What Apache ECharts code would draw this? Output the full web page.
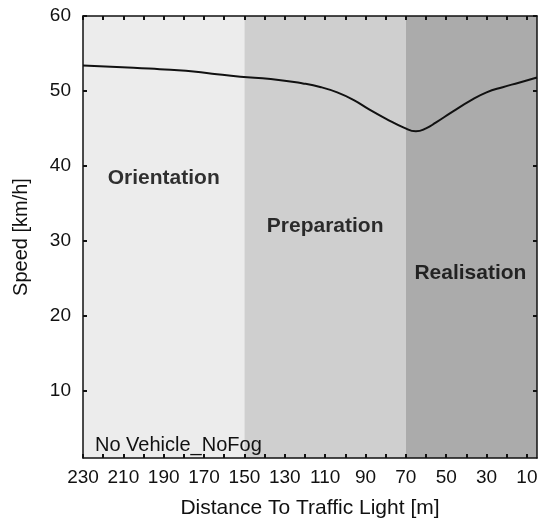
<!DOCTYPE html>
<html>
<head>
<meta charset="utf-8">
<script src="https://cdn.jsdelivr.net/npm/echarts@6/dist/echarts.min.js"></script>
<style>
html,body{margin:0;padding:0;background:#fff;}
#chart{width:541px;height:524px;}
</style>
</head>
<body>
<div id="chart"></div>
<script>
// Data
var distance = [230, 205, 192, 179, 166, 152, 137, 121, 112, 104, 96, 88, 80, 71, 65, 60, 55, 47, 38, 30, 22, 14, 5];
var speed    = [53.4, 53.1, 52.9, 52.7, 52.3, 51.9, 51.6, 51.0, 50.5, 49.8, 48.8, 47.5, 46.3, 45.1, 44.6, 45.0, 45.8, 47.2, 48.7, 49.8, 50.5, 51.1, 51.8];

var phaseNames  = ['Orientation', 'Preparation', 'Realisation'];
var phaseFrom   = [230, 150, 70];
var phaseTo     = [150, 70, 5];
var phaseColors = ['#ececec', '#cfcfcf', '#ababab'];
var phaseLabelX = [190, 110, 38];
var phaseLabelY = [38.4, 32.0, 25.7];

var xTicks  = [230, 220, 210, 200, 190, 180, 170, 160, 150, 140, 130, 120, 110, 100, 90, 80, 70, 60, 50, 40, 30, 20, 10];
var xLabels = [230, 210, 190, 170, 150, 130, 110, 90, 70, 50, 30, 10];
var yTicks  = [10, 20, 30, 40, 50, 60];

var caption = 'No Vehicle_NoFog';
var xName = 'Distance To Traffic Light [m]';
var yName = 'Speed [km/h]';

var FONT = "Arial, 'Liberation Sans', sans-serif";

var chart = echarts.init(document.getElementById('chart'));

var bands = phaseNames.map(function (n, i) {
  return [{ xAxis: phaseFrom[i], itemStyle: { color: phaseColors[i] } }, { xAxis: phaseTo[i] }];
});

var lineData = distance.map(function (d, i) { return [d, speed[i]]; });
var labelData = phaseNames.map(function (n, i) { return { name: n, value: [phaseLabelX[i], phaseLabelY[i]] }; });

var axisLineStyle = { color: '#111', width: 1.5 };
var tickStyle = { color: '#111', width: 2 };

chart.setOption({
  animation: false,
  backgroundColor: '#fff',
  title: {
    text: caption,
    left: 90,
    top: 430,
    textStyle: { fontFamily: FONT, fontSize: 20, fontWeight: 'normal', color: '#111' }
  },
  grid: { left: 83, right: 4, top: 16, bottom: 65 },
  xAxis: [{
    type: 'value',
    inverse: true,
    min: 5,
    max: 230,
    position: 'bottom',
    z: 10,
    name: xName,
    nameLocation: 'middle',
    nameGap: 40,
    nameTextStyle: { fontFamily: FONT, fontSize: 21, color: '#111' },
    axisLine: { show: true, lineStyle: axisLineStyle },
    axisTick: { show: true, inside: true, length: 4, customValues: xTicks, lineStyle: tickStyle },
    axisLabel: { customValues: xLabels, margin: 10, fontFamily: FONT, fontSize: 19, color: '#111' },
    splitLine: { show: false }
  }, {
    type: 'value',
    inverse: true,
    min: 5,
    max: 230,
    position: 'top',
    z: 10,
    axisLine: { show: true, lineStyle: axisLineStyle },
    axisTick: { show: true, inside: true, length: 4, customValues: xTicks, lineStyle: tickStyle },
    axisLabel: { show: false, customValues: xLabels },
    splitLine: { show: false }
  }],
  yAxis: [{
    type: 'value',
    min: 1,
    max: 60,
    position: 'left',
    z: 10,
    name: yName,
    nameLocation: 'middle',
    nameGap: 52,
    nameTextStyle: { fontFamily: FONT, fontSize: 20, color: '#111' },
    axisLine: { show: true, lineStyle: axisLineStyle },
    axisTick: { show: true, inside: true, length: 4, customValues: yTicks, lineStyle: tickStyle },
    axisLabel: { customValues: yTicks, margin: 12, fontFamily: FONT, fontSize: 19, color: '#111' },
    splitLine: { show: false }
  }, {
    type: 'value',
    min: 1,
    max: 60,
    position: 'right',
    z: 10,
    axisLine: { show: true, lineStyle: axisLineStyle },
    axisTick: { show: true, inside: true, length: 4, customValues: yTicks, lineStyle: tickStyle },
    axisLabel: { show: false, customValues: yTicks },
    splitLine: { show: false }
  }],
  series: [{
    type: 'line',
    xAxisIndex: 0,
    yAxisIndex: 0,
    data: lineData,
    smooth: 0.5,
    showSymbol: false,
    lineStyle: { color: '#111', width: 2 },
    z: 5,
    markArea: { silent: true, data: bands }
  }, {
    type: 'scatter',
    xAxisIndex: 0,
    yAxisIndex: 0,
    data: labelData,
    symbolSize: 0,
    silent: true,
    z: 6,
    label: {
      show: true,
      position: 'inside',
      formatter: function (p) { return p.name; },
      fontFamily: FONT,
      fontSize: 21,
      fontWeight: 'bold',
      color: '#000'
    }
  }]
});
</script>
</body>
</html>
